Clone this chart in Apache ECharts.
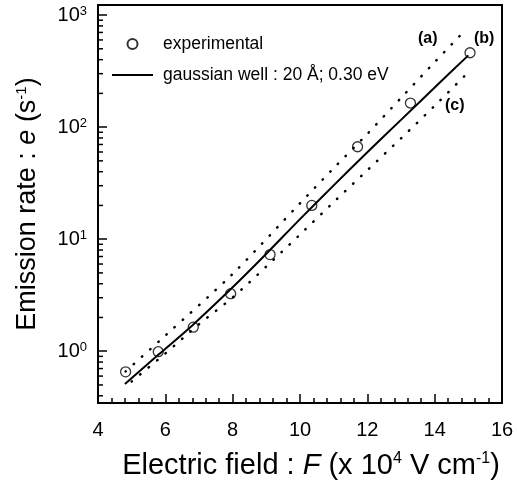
<!DOCTYPE html>
<html>
<head>
<meta charset="utf-8">
<script src="https://cdn.jsdelivr.net/npm/echarts@6/dist/echarts.min.js"></script>
<style>
html,body{margin:0;padding:0;background:#fff}
#wrap{position:relative;width:517px;height:486px}
#c,#t,#d{position:absolute;left:0;top:0;width:517px;height:486px}
#t,#d{pointer-events:none}
</style>
</head>
<body>
<div id="wrap"><div id="c"></div><div id="t"></div><div id="d"></div></div>
<script>
// Experimental points
const fieldExp = [4.82, 5.79, 6.83, 7.94, 9.11, 10.35, 11.71, 13.28, 15.05];
const rateExp  = [0.655, 0.99, 1.64, 3.26, 7.28, 20.0, 66.8, 164, 461];
// (b) gaussian well fit
const fieldB = [4.8, 5.8, 6.8, 8, 9, 10, 11, 12, 13, 14, 15];
const rateB  = [0.509, 0.933, 1.70, 3.72, 7.41, 15.1, 30.2, 59.6, 116, 226, 437];
// (a) dotted upper
const fieldA = [4.82, 6, 8, 10, 11, 12, 13, 14, 14.85];
const rateA  = [0.66, 1.38, 4.90, 20.9, 43, 87, 182, 380, 703];
// (c) dotted lower
const fieldC = [5, 6, 7, 8, 9, 10, 11, 12, 13, 14, 15];
const rateC  = [0.537, 0.955, 1.74, 3.02, 5.70, 11.0, 21.4, 41.2, 79.4, 155, 309];
// axis ticks
const xTicks = [4, 6, 8, 10, 12, 14, 16];
const yMinorTicks = [0.4,0.5,0.6,0.7,0.8,0.9,2,3,4,5,6,7,8,9,20,30,40,50,60,70,80,90,200,300,400,500,600,700,800,900];

const FONT = '"Liberation Sans", Arial, sans-serif';
const zip = (xs, ys) => xs.map((x, i) => [x, ys[i]]);
const GRID = {left: 98, right: 15, top: 5, bottom: 83};
const X_MIN = 4, X_MAX = 16, Y_MIN = 0.345, Y_MAX = 1230;

function minorTickSeries(color) {
  return {
    name: 'minorTicks', type: 'custom',
    data: yMinorTicks.map(v => [X_MIN, v]),
    renderItem: (params, api) => {
      const p = api.coord([api.value(0), api.value(1)]);
      return {type: 'line', shape: {x1: p[0], y1: p[1], x2: p[0] + 5, y2: p[1]},
        style: {stroke: color, lineWidth: 1.5}};
    }
  };
}

// Main chart: axes, ticks, labels, legend, fit line, experimental points
const chart = echarts.init(document.getElementById('c'));
chart.setOption({
  animation: false,
  grid: GRID,
  legend: {
    orient: 'vertical', left: 111, top: 35, padding: 0, itemGap: 13,
    itemWidth: 41, itemHeight: 10,
    data: [
      {name: 'experimental'},
      {name: 'gaussian well : 20 Å; 0.30 eV', itemStyle: {opacity: 0}}
    ],
    textStyle: {fontFamily: FONT, fontSize: 17.5, color: '#000', padding: [0, 0, 0, 5]}
  },
  xAxis: {
    type: 'value', min: X_MIN, max: X_MAX, interval: 2,
    axisLine: {show: true, onZero: false, lineStyle: {color: '#000', width: 2}},
    axisTick: {show: true, inside: true, length: 9, lineStyle: {color: '#000', width: 1.5}},
    minorTick: {show: true, splitNumber: 5, length: 5, lineStyle: {color: '#000', width: 1.5}},
    splitLine: {show: false},
    axisLabel: {show: true, fontFamily: FONT, fontSize: 20, color: '#000', margin: 17,
      formatter: v => xTicks.includes(v) ? String(v) : ''},
    name: 'Electric field : {i|F} (x 10{s|4} V cm{s|-1})',
    nameLocation: 'middle', nameGap: 48,
    nameTextStyle: {fontFamily: FONT, fontSize: 29, color: '#000', padding: [0, 0, 0, 22],
      rich: {
        i: {fontFamily: FONT, fontSize: 29, fontStyle: 'italic', color: '#000'},
        s: {fontFamily: FONT, fontSize: 16, color: '#000', verticalAlign: 'top'}
      }}
  },
  yAxis: {
    type: 'log', logBase: 10, min: Y_MIN, max: Y_MAX,
    axisLine: {show: true, onZero: false, lineStyle: {color: '#000', width: 2}},
    axisTick: {show: true, inside: true, length: 9, lineStyle: {color: '#000', width: 1.5}},
    splitLine: {show: false},
    axisLabel: {show: true, fontFamily: FONT, color: '#000', margin: 11,
      formatter: v => {
        const e = Math.log10(v);
        if (Math.abs(e - Math.round(e)) > 1e-6) return '';
        return '{b|10}{s|' + Math.round(e) + '}';
      },
      rich: {
        b: {fontFamily: FONT, fontSize: 20, color: '#000'},
        s: {fontFamily: FONT, fontSize: 13, color: '#000', verticalAlign: 'top'}
      }},
    name: 'Emission rate : {i|e} (s{s|-1})',
    nameLocation: 'middle', nameGap: 57,
    nameTextStyle: {fontFamily: FONT, fontSize: 27, color: '#000',
      rich: {
        i: {fontFamily: FONT, fontSize: 27, fontStyle: 'italic', color: '#000'},
        s: {fontFamily: FONT, fontSize: 15, color: '#000', verticalAlign: 'top'}
      }}
  },
  series: [
    {
      name: 'gaussian well : 20 Å; 0.30 eV', type: 'line', data: zip(fieldB, rateB), symbol: 'none', smooth: 0.3,
      lineStyle: {color: '#000', width: 2}
    },
    {
      name: 'experimental', type: 'scatter', data: zip(fieldExp, rateExp),
      symbol: 'circle', symbolSize: 10,
      itemStyle: {color: 'rgba(255,255,255,0)', borderColor: '#000', borderWidth: 1.3}
    },
    minorTickSeries('#000')
  ],
  graphic: [
    {type: 'text', left: 418, top: 31, style: {text: '(a)', font: 'bold 16px ' + FONT, fill: '#000'}},
    {type: 'text', left: 474, top: 31, style: {text: '(b)', font: 'bold 16px ' + FONT, fill: '#000'}},
    {type: 'text', left: 445, top: 98, style: {text: '(c)', font: 'bold 16px ' + FONT, fill: '#000'}}
  ]
});

// Overlay chart: dotted curves (a) and (c) plus the top/right frame, same grid and scales
const overlay = echarts.init(document.getElementById('d'));
overlay.setOption({
  animation: false,
  grid: GRID,
  xAxis: {
    type: 'value', position: 'top', min: X_MIN, max: X_MAX,
    axisLine: {show: true, onZero: false, lineStyle: {color: '#000', width: 2}},
    axisTick: {show: false}, axisLabel: {show: false}, splitLine: {show: false}
  },
  yAxis: {
    type: 'log', position: 'right', min: Y_MIN, max: Y_MAX,
    axisLine: {show: true, onZero: false, lineStyle: {color: '#000', width: 2}},
    axisTick: {show: false}, axisLabel: {show: false}, splitLine: {show: false}
  },
  series: [
    {
      name: '(a)', type: 'line', data: zip(fieldA, rateA), symbol: 'none', smooth: 0.3,
      lineStyle: {color: '#000', width: 2.5, type: [0.5, 10.5], cap: 'round'}
    },
    {
      name: '(c)', type: 'line', data: zip(fieldC, rateC), symbol: 'none', smooth: 0.3,
      lineStyle: {color: '#000', width: 2.5, type: [0.5, 10.5], cap: 'round'}
    }
  ]
});

// Check that the tick marks really reached the canvas; if not, draw them on a minimal tick-only layer.
function hasInk(inst, x, y, w, h) {
  try {
    const cv = inst.getDom().querySelector('canvas');
    const d = cv.getContext('2d').getImageData(Math.round(x), Math.round(y), w, h).data;
    for (let i = 0; i < d.length; i += 4) {
      if (d[i + 3] > 100 && d[i] + d[i + 1] + d[i + 2] < 450) return true;
    }
  } catch (e) {}
  return false;
}
function ticksVisible(inst) {
  const px = inst.convertToPixel({xAxisIndex: 0}, 6);
  const pyBottom = inst.convertToPixel({yAxisIndex: 0}, Y_MIN);
  const py200 = inst.convertToPixel({yAxisIndex: 0}, 200);
  const pxLeft = inst.convertToPixel({xAxisIndex: 0}, X_MIN);
  const xOk = hasInk(inst, px - 1, pyBottom - 7, 3, 3);
  const yOk = hasInk(inst, pxLeft + 2, py200 - 1, 3, 3);
  return xOk && yOk;
}
function tickOption(color) {
  return {
    animation: false,
    grid: GRID,
    xAxis: {
      type: 'value', min: X_MIN, max: X_MAX, interval: 2,
      axisLine: {show: false, onZero: false},
      axisTick: {show: true, inside: true, length: 9, lineStyle: {color: color, width: 1.5}},
      minorTick: {show: true, splitNumber: 5, length: 5, lineStyle: {color: color, width: 1.5}},
      axisLabel: {show: false}, splitLine: {show: false}
    },
    yAxis: {
      type: 'log', min: Y_MIN, max: Y_MAX,
      axisLine: {show: false, onZero: false},
      axisTick: {show: true, inside: true, length: 9, lineStyle: {color: color, width: 1.5}},
      axisLabel: {show: false}, splitLine: {show: false}
    },
    series: [minorTickSeries(color)]
  };
}
try {
  if (!ticksVisible(chart)) {
    const tickChart = echarts.init(document.getElementById('t'));
    const colors = ['#000', '#000033', '#000060', '#00008b'];
    for (let i = 0; i < colors.length; i++) {
      tickChart.setOption(tickOption(colors[i]), true);
      if (ticksVisible(tickChart)) break;
    }
  }
} catch (e) {}
</script>
</body>
</html>
